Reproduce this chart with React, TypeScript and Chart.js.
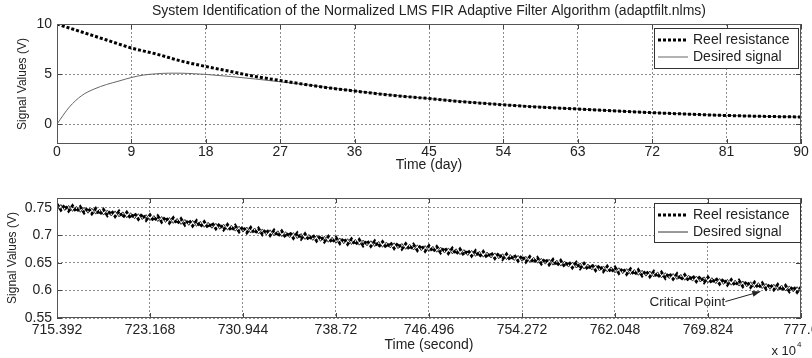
import React, { useEffect, useRef } from "react";
import { Chart, registerables } from "chart.js";

Chart.register(...registerables);

const FONT = '"Liberation Sans", Arial, Helvetica, sans-serif';
const TEXT = "#222";

// ---------- Top panel data ----------
const titleText = "System Identification of the Normalized LMS FIR Adaptive Filter Algorithm (adaptfilt.nlms)";
const seriesNames = ["Reel resistance", "Desired signal"];
const topReelDays = [0, 3, 6, 9, 12, 15, 18, 21, 24, 27, 30, 33, 36, 39, 42, 45, 48, 51, 54, 57, 60, 63, 66, 69, 72, 75, 78, 81, 84, 87, 90];
const topReel = [10, 9.2, 8.4, 7.6, 7.0, 6.3, 5.75, 5.25, 4.75, 4.35, 3.95, 3.6, 3.3, 3.0, 2.75, 2.55, 2.3, 2.1, 1.92, 1.75, 1.62, 1.5, 1.37, 1.25, 1.13, 1.03, 0.93, 0.85, 0.79, 0.74, 0.7];
const topDesiredDays = [0, 1.5, 3, 4.5, 6, 7.5, 9, 10.5, 12, 13.5, 15, 16.5, 18, 21, 24, 27, 30, 33, 36, 39, 42, 45, 48, 51, 54, 57, 60, 63, 66, 69, 72, 75, 78, 81, 84, 87, 90];
const topDesired = [0, 1.7, 2.85, 3.5, 3.95, 4.3, 4.65, 4.9, 5.02, 5.08, 5.08, 5.03, 4.96, 4.75, 4.5, 4.22, 3.95, 3.62, 3.32, 3.03, 2.77, 2.55, 2.32, 2.12, 1.93, 1.77, 1.63, 1.5, 1.37, 1.25, 1.14, 1.04, 0.94, 0.86, 0.79, 0.74, 0.7];
const topXTicks = [0, 9, 18, 27, 36, 45, 54, 63, 72, 81, 90];
const topXLabels = ["0", "9", "18", "27", "36", "45", "54", "63", "72", "81", "90"];
const topYTicks = [0, 5, 10];
const topYLabels = ["0", "5", "10"];

// ---------- Bottom panel data ----------
const bottomStart = 715.392;
const bottomStep = 0.324;
const bottomReel = [
  0.7570, 0.7462, 0.7553, 0.7445, 0.7537, 0.7428, 0.7520, 0.7412, 0.7503, 0.7395, 0.7487, 0.7378, 0.7470, 0.7362, 0.7453, 0.7345, 0.7437, 0.7328, 0.7420, 0.7312, 0.7403, 0.7295, 0.7387, 0.7278, 0.7370,
  0.7261, 0.7353, 0.7244, 0.7335, 0.7226, 0.7318, 0.7209, 0.7300, 0.7191, 0.7283, 0.7174, 0.7265, 0.7156, 0.7248, 0.7139, 0.7230, 0.7121, 0.7213, 0.7104, 0.7195, 0.7086, 0.7178, 0.7069, 0.7160,
  0.7052, 0.7143, 0.7035, 0.7127, 0.7018, 0.7110, 0.7002, 0.7093, 0.6985, 0.7077, 0.6968, 0.7060, 0.6952, 0.7043, 0.6935, 0.7027, 0.6918, 0.7010, 0.6902, 0.6993, 0.6885, 0.6977, 0.6868, 0.6960,
  0.6854, 0.6948, 0.6841, 0.6935, 0.6829, 0.6923, 0.6816, 0.6910, 0.6804, 0.6898, 0.6791, 0.6885, 0.6779, 0.6873, 0.6766, 0.6860, 0.6754, 0.6848, 0.6741, 0.6835, 0.6729, 0.6823, 0.6716, 0.6810,
  0.6703, 0.6795, 0.6688, 0.6780, 0.6673, 0.6765, 0.6658, 0.6750, 0.6643, 0.6735, 0.6628, 0.6720, 0.6613, 0.6705, 0.6598, 0.6690, 0.6583, 0.6675, 0.6568, 0.6660, 0.6553, 0.6645, 0.6538, 0.6630,
  0.6521, 0.6613, 0.6504, 0.6595, 0.6486, 0.6578, 0.6469, 0.6560, 0.6451, 0.6543, 0.6434, 0.6525, 0.6416, 0.6508, 0.6399, 0.6490, 0.6381, 0.6473, 0.6364, 0.6455, 0.6346, 0.6438, 0.6329, 0.6420,
  0.6313, 0.6405, 0.6298, 0.6390, 0.6283, 0.6375, 0.6268, 0.6360, 0.6253, 0.6345, 0.6238, 0.6330, 0.6223, 0.6315, 0.6208, 0.6300, 0.6193, 0.6285, 0.6178, 0.6270, 0.6163, 0.6255, 0.6148, 0.6240,
  0.6133, 0.6225, 0.6118, 0.6210, 0.6103, 0.6195, 0.6088, 0.6180, 0.6073, 0.6165, 0.6058, 0.6150, 0.6043, 0.6135, 0.6028, 0.6120, 0.6013, 0.6105, 0.5998, 0.6090, 0.5983, 0.6075, 0.5968, 0.6060,
];
const bottomDesired = [
  0.7470, 0.7562, 0.7453, 0.7545, 0.7437, 0.7528, 0.7420, 0.7512, 0.7403, 0.7495, 0.7387, 0.7478, 0.7370, 0.7462, 0.7353, 0.7445, 0.7337, 0.7428, 0.7320, 0.7412, 0.7303, 0.7395, 0.7287, 0.7378, 0.7270,
  0.7361, 0.7253, 0.7344, 0.7235, 0.7326, 0.7218, 0.7309, 0.7200, 0.7291, 0.7183, 0.7274, 0.7165, 0.7256, 0.7148, 0.7239, 0.7130, 0.7221, 0.7113, 0.7204, 0.7095, 0.7186, 0.7078, 0.7169, 0.7060,
  0.7152, 0.7043, 0.7135, 0.7027, 0.7118, 0.7010, 0.7102, 0.6993, 0.7085, 0.6977, 0.7068, 0.6960, 0.7052, 0.6943, 0.7035, 0.6927, 0.7018, 0.6910, 0.7002, 0.6893, 0.6985, 0.6877, 0.6968, 0.6860,
  0.6954, 0.6848, 0.6941, 0.6835, 0.6929, 0.6823, 0.6916, 0.6810, 0.6904, 0.6798, 0.6891, 0.6785, 0.6879, 0.6773, 0.6866, 0.6760, 0.6854, 0.6748, 0.6841, 0.6735, 0.6829, 0.6723, 0.6816, 0.6710,
  0.6803, 0.6695, 0.6788, 0.6680, 0.6773, 0.6665, 0.6758, 0.6650, 0.6743, 0.6635, 0.6728, 0.6620, 0.6713, 0.6605, 0.6698, 0.6590, 0.6683, 0.6575, 0.6668, 0.6560, 0.6653, 0.6545, 0.6638, 0.6530,
  0.6621, 0.6513, 0.6604, 0.6495, 0.6586, 0.6478, 0.6569, 0.6460, 0.6551, 0.6443, 0.6534, 0.6425, 0.6516, 0.6408, 0.6499, 0.6390, 0.6481, 0.6373, 0.6464, 0.6355, 0.6446, 0.6338, 0.6429, 0.6320,
  0.6413, 0.6305, 0.6398, 0.6290, 0.6383, 0.6275, 0.6368, 0.6260, 0.6353, 0.6245, 0.6338, 0.6230, 0.6323, 0.6215, 0.6308, 0.6200, 0.6293, 0.6185, 0.6278, 0.6170, 0.6263, 0.6155, 0.6248, 0.6140,
  0.6233, 0.6125, 0.6218, 0.6110, 0.6203, 0.6095, 0.6188, 0.6080, 0.6173, 0.6065, 0.6158, 0.6050, 0.6143, 0.6035, 0.6128, 0.6020, 0.6113, 0.6005, 0.6098, 0.5990, 0.6083, 0.5975, 0.6068, 0.5960,
];
// sampling grid of the bottom panel (time in units of 10^4 s)
const bottomTime = bottomReel.map((_, i) => bottomStart + i * bottomStep);
const bottomXTicks = [715.392, 723.168, 730.944, 738.72, 746.496, 754.272, 762.048, 769.824, 777.6];
const bottomXLabels = ["715.392", "723.168", "730.944", "738.72", "746.496", "754.272", "762.048", "769.824", "777.6"];
const bottomYTicks = [0.55, 0.6, 0.65, 0.7, 0.75];
const bottomYLabels = ["0.55", "0.6", "0.65", "0.7", "0.75"];
const criticalPoint = { x: 774.2, y: 0.598, label: "Critical Point" };

const framePlugin = {
  id: "frame",
  afterDatasetsDraw(chart: any, _args: any, opts: any) {
    const { ctx, chartArea: a } = chart;
    const xs = chart.scales.x;
    const ys = chart.scales.y;
    ctx.save();
    // inner tick marks
    ctx.strokeStyle = "#444";
    ctx.lineWidth = 1;
    ctx.setLineDash([]);
    ctx.beginPath();
    xs.ticks.forEach((t: any) => {
      const px = Math.round(xs.getPixelForValue(t.value)) + 0.5;
      ctx.moveTo(px, a.bottom);
      ctx.lineTo(px, a.bottom - 5);
      ctx.moveTo(px, a.top);
      ctx.lineTo(px, a.top + 5);
    });
    ys.ticks.forEach((t: any) => {
      const py = Math.round(ys.getPixelForValue(t.value)) + 0.5;
      ctx.moveTo(a.left, py);
      ctx.lineTo(a.left + 5, py);
      ctx.moveTo(a.right, py);
      ctx.lineTo(a.right - 5, py);
    });
    ctx.stroke();
    // box
    ctx.strokeStyle = "#555";
    ctx.strokeRect(Math.round(a.left) + 0.5, Math.round(a.top) + 0.5, Math.round(a.width) - 1, Math.round(a.height) - 1);

    // critical point annotation
    if (opts.critical) {
      const cp = opts.critical;
      const tx = xs.getPixelForValue(cp.x);
      const ty = ys.getPixelForValue(cp.y);
      const sx = tx - 35;
      const sy = ty + 10;
      ctx.strokeStyle = "#222";
      ctx.fillStyle = "#222";
      ctx.lineWidth = 1;
      ctx.beginPath();
      ctx.moveTo(sx, sy);
      ctx.lineTo(tx, ty);
      ctx.stroke();
      const ang = Math.atan2(ty - sy, tx - sx);
      ctx.beginPath();
      ctx.moveTo(tx, ty);
      ctx.lineTo(tx - 8 * Math.cos(ang) + 3 * Math.sin(ang), ty - 8 * Math.sin(ang) - 3 * Math.cos(ang));
      ctx.lineTo(tx - 8 * Math.cos(ang) - 3 * Math.sin(ang), ty - 8 * Math.sin(ang) + 3 * Math.cos(ang));
      ctx.closePath();
      ctx.fill();
      ctx.font = `13.5px ${FONT}`;
      ctx.textAlign = "right";
      ctx.textBaseline = "middle";
      ctx.fillText(cp.label, sx, sy + 1);
    }

    // legend box
    const lg = opts.legend;
    const bx = a.right - lg.rightGap - lg.width;
    const by = a.top + lg.topGap;
    ctx.fillStyle = "#fff";
    ctx.fillRect(bx, by, lg.width, lg.height);
    ctx.strokeStyle = "#333";
    ctx.lineWidth = 1;
    ctx.setLineDash([]);
    ctx.strokeRect(Math.round(bx) + 0.5, Math.round(by) + 0.5, lg.width, lg.height);
    chart.data.datasets.forEach((ds: any, i: number) => {
      const ry = by + 12 + i * 17;
      ctx.save();
      ctx.strokeStyle = ds.borderColor;
      ctx.lineWidth = ds.borderWidth;
      ctx.setLineDash(ds.borderDash || []);
      ctx.beginPath();
      ctx.moveTo(bx + 4, ry);
      ctx.lineTo(bx + 34, ry);
      ctx.stroke();
      ctx.restore();
      ctx.fillStyle = TEXT;
      ctx.font = `14px ${FONT}`;
      ctx.textAlign = "left";
      ctx.textBaseline = "middle";
      ctx.fillText(ds.label, bx + 39, ry);
    });

    // exponent note
    if (opts.exponent) {
      ctx.fillStyle = TEXT;
      ctx.font = `13px ${FONT}`;
      ctx.textAlign = "right";
      ctx.textBaseline = "middle";
      ctx.fillText("x 10", a.right - 5, a.bottom + 33);
      ctx.font = `8px ${FONT}`;
      ctx.textAlign = "left";
      ctx.fillText(opts.exponent, a.right - 4, a.bottom + 27);
    }
    ctx.restore();
  },
};

function axisFont(size: number) {
  return { size, family: FONT };
}

function makeConfig(p: any): any {
  return {
    type: "line",
    data: {
      datasets: [
        {
          label: p.names[0],
          data: p.reelX.map((x: number, i: number) => ({ x, y: p.reelY[i] })),
          borderColor: "#000",
          borderWidth: 3,
          borderDash: [3, 2],
          pointRadius: 0,
          fill: false,
          cubicInterpolationMode: p.smooth ? "monotone" : "default",
        },
        {
          label: p.names[1],
          data: p.desX.map((x: number, i: number) => ({ x, y: p.desY[i] })),
          borderColor: p.desColor,
          borderWidth: 1,
          pointRadius: 0,
          fill: false,
          cubicInterpolationMode: p.smooth ? "monotone" : "default",
        },
      ],
    },
    options: {
      animation: false,
      responsive: false,
      devicePixelRatio: 1,
      layout: { padding: { left: 0, right: 11, top: p.padTop, bottom: 0 } },
      plugins: {
        legend: { display: false },
        tooltip: { enabled: false },
        title: p.title
          ? {
              display: true,
              text: p.title,
              fullSize: false,
              color: TEXT,
              font: { size: 14, family: FONT, weight: "normal" },
              padding: { top: 3, bottom: 4.2 },
            }
          : { display: false },
        frame: { legend: p.legend, critical: p.critical, exponent: p.exponent },
      },
      scales: {
        x: {
          type: "linear",
          min: p.xMin,
          max: p.xMax,
          afterBuildTicks: (axis: any) => {
            axis.ticks = p.xTicks.map((v: number) => ({ value: v }));
          },
          afterFit: (s: any) => {
            s.height = p.xAxisHeight;
            s.paddingLeft = 0;
            s.paddingRight = 0;
          },
          ticks: {
            autoSkip: false,
            maxRotation: 0,
            color: TEXT,
            font: axisFont(14),
            padding: p.xTickPad,
            callback: (_v: any, i: number) => p.xLabels[i],
          },
          grid: { color: "rgba(0,0,0,0.45)", lineWidth: 1, drawTicks: false },
          border: { display: false, dash: [2, 2] },
          title: {
            display: true,
            text: p.xTitle,
            color: TEXT,
            font: axisFont(14),
            padding: { top: 0, bottom: 4.6 },
          },
        },
        y: {
          type: "linear",
          min: p.yMin,
          max: p.yMax,
          afterBuildTicks: (axis: any) => {
            axis.ticks = p.yTicks.map((v: number) => ({ value: v }));
          },
          afterFit: (s: any) => {
            s.width = 57;
          },
          ticks: {
            autoSkip: false,
            color: TEXT,
            font: axisFont(14),
            padding: 5,
            callback: (_v: any, i: number) => p.yLabels[i],
          },
          grid: { color: "rgba(0,0,0,0.45)", lineWidth: 1, drawTicks: false },
          border: { display: false, dash: [2, 2] },
          title: {
            display: true,
            text: "Signal Values (V)",
            color: TEXT,
            font: axisFont(12),
            padding: { top: p.yTitlePad, bottom: 0 },
          },
        },
      },
    },
    plugins: [framePlugin],
  };
}

export default function App() {
  const topRef = useRef<HTMLCanvasElement>(null);
  const botRef = useRef<HTMLCanvasElement>(null);

  useEffect(() => {
    Chart.defaults.font.family = FONT;
    const top = new Chart(
      topRef.current as HTMLCanvasElement,
      makeConfig({
        names: seriesNames,
        reelX: topReelDays,
        reelY: topReel,
        desX: topDesiredDays,
        desY: topDesired,
        desColor: "#666",
        smooth: true,
        title: titleText,
        padTop: 0,
        xMin: 0,
        xMax: 90,
        xTicks: topXTicks,
        xLabels: topXLabels,
        xTitle: "Time (day)",
        xAxisHeight: 34,
        xTickPad: 0,
        yMin: -2,
        yMax: 10,
        yTicks: topYTicks,
        yLabels: topYLabels,
        yTitlePad: 15,
        legend: { width: 144, height: 40, rightGap: 3, topGap: 4 },
      })
    );
    const bottom = new Chart(
      botRef.current as HTMLCanvasElement,
      makeConfig({
        names: seriesNames,
        reelX: bottomTime,
        reelY: bottomReel,
        desX: bottomTime,
        desY: bottomDesired,
        desColor: "#333",
        smooth: false,
        title: null,
        padTop: 20,
        xMin: bottomXTicks[0],
        xMax: bottomXTicks[bottomXTicks.length - 1],
        xTicks: bottomXTicks,
        xLabels: bottomXLabels,
        xTitle: "Time (second)",
        xAxisHeight: 40,
        xTickPad: 4,
        yMin: 0.55,
        yMax: 0.768,
        yTicks: bottomYTicks,
        yLabels: bottomYLabels,
        yTitlePad: 5,
        legend: { width: 146, height: 39, rightGap: 1, topGap: 5 },
        critical: criticalPoint,
        exponent: "4",
      })
    );
    return () => {
      top.destroy();
      bottom.destroy();
    };
  }, []);

  return (
    <div style={{ position: "fixed", left: 0, top: 0, width: 812, height: 358, background: "#fff" }}>
      <canvas ref={topRef} width={812} height={178} style={{ position: "absolute", left: 0, top: 0 }} />
      <canvas ref={botRef} width={812} height={180} style={{ position: "absolute", left: 0, top: 178 }} />
    </div>
  );
}
